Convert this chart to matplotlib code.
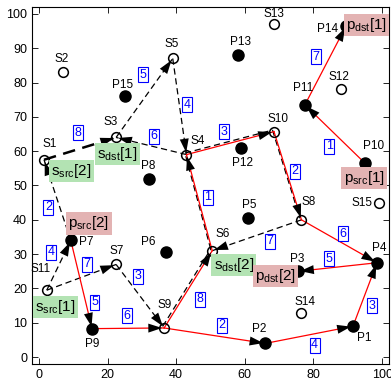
import matplotlib.pyplot as plt
from matplotlib.transforms import offset_copy

plt.rcParams['font.family'] = ['Liberation Sans', 'DejaVu Sans']
plt.rcParams['mathtext.fontset'] = 'custom'
plt.rcParams['mathtext.rm'] = 'Liberation Sans'
plt.rcParams['mathtext.it'] = 'Liberation Sans:italic'

# sensor nodes S1..S15 (open circles)
s_x = [1.5, 7, 22.5, 43, 39, 50.5, 22.5, 76.5, 36.5, 68.5, 2.3, 88, 68.5, 76.5, 99]
s_y = [57.5, 83, 64, 59, 87, 31, 27, 40, 8.5, 65.7, 19.5, 78, 97, 13, 45]

# packet nodes P1..P15 (filled circles)
p_x = [91.5, 66, 75.5, 98.5, 61, 37, 9.3, 32, 15.5, 95, 77.5, 59, 58, 89.5, 25]
p_y = [9, 4, 25, 27.5, 40.5, 30.5, 34, 52, 8.3, 56.5, 73.5, 61, 88, 96.5, 76]

# directed links: (from, to, slot, kind)
links = [
    ('P10', 'P11', 1, 'red'),
    ('P11', 'P14', 7, 'red'),
    ('P7', 'P9', 5, 'red'),
    ('P9', 'S9', 6, 'red'),
    ('S9', 'P2', 2, 'red'),
    ('P2', 'P1', 4, 'red'),
    ('P1', 'P4', 3, 'red'),
    ('P4', 'P3', 5, 'red'),
    ('S8', 'P4', 6, 'red'),
    ('S9', 'S6', 8, 'both'),
    ('S6', 'S4', 1, 'both'),
    ('S4', 'S10', 3, 'both'),
    ('S10', 'S8', 2, 'both'),
    ('S11', 'P7', 4, 'dash'),
    ('P7', 'S1', 2, 'dash'),
    ('S1', 'S3', 8, 'dash'),
    ('S3', 'S5', 5, 'dash'),
    ('S5', 'S4', 4, 'dash'),
    ('S4', 'S3', 6, 'dash'),
    ('S11', 'S7', 7, 'dash'),
    ('S7', 'S9', 3, 'dash'),
    ('S8', 'S6', 7, 'dash'),
]
thick_links = {('S1', 'S3')}

# where each slot number sits
slot_xy = [(84.6, 61.5), (80.8, 87.5), (16.2, 16), (25.6, 12), (53.3, 9.3),
           (80.3, 3.5), (97.1, 14.9), (84.6, 28.6), (88.7, 35.9), (46.9, 16.9),
           (49.2, 46.6), (53.9, 65.6), (74.5, 54.2), (3.6, 30.6), (2.8, 43.7),
           (11.5, 65.3), (30.4, 82.2), (43.1, 73.5), (33.6, 64.4), (14.1, 27.1),
           (28.8, 23.6), (67.2, 33.8)]

# node name offsets (data units)
name_off = {
    'S1': (1.6, 4.6), 'S2': (-0.5, 3.9), 'S3': (-1.5, 4.5), 'S4': (3.3, 4),
    'S5': (-0.3, 4.1), 'S6': (3.1, 4.9), 'S7': (0.3, 3.9), 'S8': (2, 5.2),
    'S9': (0, 6.7), 'S10': (1.3, 3.7), 'S11': (-1.8, 6.2), 'S12': (-0.5, 3.6),
    'S13': (-0.1, 3), 'S14': (1.1, 3), 'S15': (-4.8, 0),
    'P1': (3.3, -3.5), 'P2': (-1.7, 4.2), 'P3': (-0.2, 3.6), 'P4': (0.6, 4.3),
    'P5': (0.4, 3.8), 'P6': (-5.2, 3), 'P7': (4.5, -0.5), 'P8': (-0.2, 3.7),
    'P9': (0, -4.5), 'P10': (2.4, 5), 'P11': (-0.4, 4.9), 'P12': (0.4, -4.4),
    'P13': (0.8, 3.8), 'P14': (-5.5, -0.9), 'P15': (-0.5, 3.3),
}

# source / destination tags
tags = [
    (r'$\mathregular{s_{src}[1]}$', 4.8, 14.6, 'green'),
    (r'$\mathregular{s_{src}[2]}$', 9.4, 54.2, 'green'),
    (r'$\mathregular{s_{dst}[1]}$', 22.8, 59.2, 'green'),
    (r'$\mathregular{s_{dst}[2]}$', 56.8, 26.8, 'green'),
    (r'$\mathregular{p_{src}[1]}$', 94.8, 52.2, 'pink'),
    (r'$\mathregular{p_{src}[2]}$', 14.6, 39.0, 'pink'),
    (r'$\mathregular{p_{dst}[1]}$', 95.4, 96.8, 'pink'),
    (r'$\mathregular{p_{dst}[2]}$', 68.9, 23.6, 'pink'),
]
tag_colors = {'green': '#b3e3b3', 'pink': '#e3b3b3'}

pos = {}
for i in range(len(s_x)):
    pos['S%d' % (i + 1)] = (s_x[i], s_y[i])
for i in range(len(p_x)):
    pos['P%d' % (i + 1)] = (p_x[i], p_y[i])

fig = plt.figure(figsize=(3.91, 3.81), dpi=100)
ax = fig.add_axes([32 / 391, 17 / 381, 357 / 391, 357 / 381])
ax.set_xlim(-2, 102)
ax.set_ylim(-2, 102)

shifted = offset_copy(ax.transData, fig=fig, x=-1.5, y=1.5, units='dots')

for (a, b, slot, kind), (lx, ly) in zip(links, slot_xy):
    xa, ya = pos[a]
    xb, yb = pos[b]
    if kind in ('dash', 'both'):
        lw = 1.8 if (a, b) in thick_links else 0.9
        tr = shifted if kind == 'both' else ax.transData
        ax.plot([xa, xb], [ya, yb], color='k', lw=lw, dashes=(5, 3),
                transform=tr, zorder=2)
    if kind in ('red', 'both'):
        ax.plot([xa, xb], [ya, yb], color='r', lw=0.9, zorder=3)
    ax.text(lx, ly, str(slot), color='b', fontsize=9, ha='center', va='center',
            zorder=6,
            bbox=dict(boxstyle='square,pad=0.12', fc='white', ec='b', lw=0.8))

ax.plot(s_x, s_y, 'o', ms=7, mfc='none', mec='k', mew=1.1, zorder=4)
ax.plot(p_x, p_y, 'o', ms=8, mfc='k', mec='k', zorder=4)

# arrow heads at the receiving end of every link
for a, b, slot, kind in links:
    xa, ya = pos[a]
    xb, yb = pos[b]
    ax.annotate('', xy=(xb, yb), xytext=(xa, ya), zorder=5,
                arrowprops=dict(arrowstyle='-|>,head_length=0.55,head_width=0.18',
                                mutation_scale=18, color='k', lw=0,
                                shrinkA=0, shrinkB=1.5))

for name, (x, y) in pos.items():
    dx, dy = name_off[name]
    ax.text(x + dx, y + dy, name, fontsize=8.5, ha='center', va='center', zorder=6)

for txt, x, y, c in tags:
    ax.text(x, y, txt, fontsize=11, ha='center', va='center', zorder=7,
            bbox=dict(boxstyle='square,pad=0.15', fc=tag_colors[c], ec='none'))

ax.set_xticks([0, 20, 40, 60, 80, 100])
ax.set_yticks(range(0, 101, 10))
ax.tick_params(direction='in', length=4, top=True, right=True, labelsize=9,
               width=0.6)
for sp in ax.spines.values():
    sp.set_linewidth(0.8)

fig.savefig('out.png', dpi=100)
